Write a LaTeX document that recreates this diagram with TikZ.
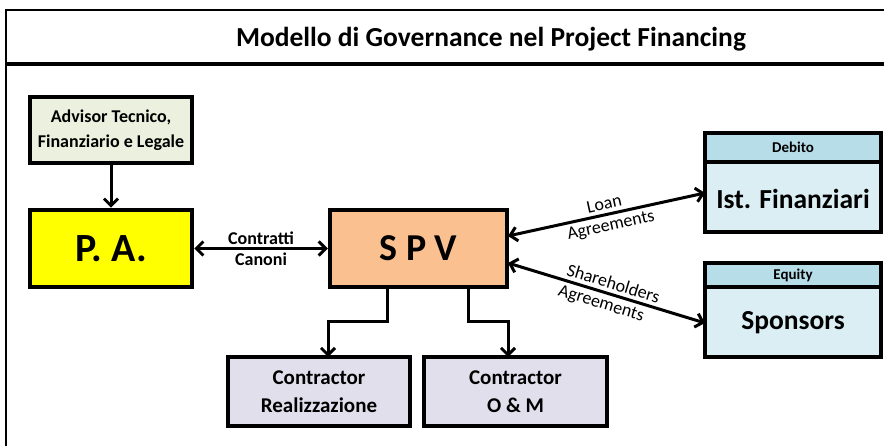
\documentclass[tikz,border=0pt]{standalone}
\usepackage{fontspec}
\setmainfont{Carlito}
\usetikzlibrary{arrows.meta}
\definecolor{advfill}{HTML}{EBF1DE}
\definecolor{pafill}{HTML}{FFFF00}
\definecolor{spvfill}{HTML}{FAC090}
\definecolor{hdrfill}{HTML}{B7DEE8}
\definecolor{bodyfill}{HTML}{DBEEF4}
\definecolor{confill}{HTML}{E2DFED}
\tikzset{
  box/.style={draw=black, line width=4.5pt, inner sep=0pt, font=\bfseries, align=center, text=black},
  conn/.style={line width=3pt, -{Straight Barb[length=7pt,width=14pt,line width=3pt]}},
  dconn/.style={line width=3pt, {Straight Barb[length=7pt,width=14pt,line width=3pt]}-{Straight Barb[length=7pt,width=14pt,line width=3pt]}},
  lbl/.style={font=\fontsize{18}{20}\selectfont, inner sep=3.5pt},
  blbl/.style={font=\fontsize{18}{20}\selectfont\bfseries, inner sep=3.5pt},
}
\begin{document}
\begin{tikzpicture}[x=1pt,y=-1pt]
\useasboundingbox (0,0) rectangle (884,446);
% frame
\draw[line width=2.5pt] (6,446) -- (6,10) -- (886,10);
\draw[line width=4.5pt] (6,64) -- (886,64);
\node[font=\fontsize{27.5}{30}\selectfont\bfseries] (title) at (491,39) {Modello di Governance nel Project Financing};
% boxes
\node[box, fill=advfill, minimum width=162pt, minimum height=66pt, font=\fontsize{18}{25}\selectfont\bfseries] (adv) at (111,130) {Advisor Tecnico,\\Finanziario e Legale};
\node[box, fill=pafill, minimum width=162pt, minimum height=77pt, font=\fontsize{40}{42}\selectfont\bfseries] (pa) at (111,248.5) {P. A.};
\node[box, fill=spvfill, minimum width=177pt, minimum height=77pt, font=\fontsize{38}{42}\selectfont\bfseries] (spv) at (418.5,248.5) {S P V};
% Debito
\node[box, fill=bodyfill, minimum width=176pt, minimum height=99pt] (deb) at (793,182.5) {};
\node[box, fill=hdrfill, minimum width=176pt, minimum height=29pt, font=\fontsize{15}{17}\selectfont\bfseries] (debh) at (793,147.5) {Debito};
\node[font=\fontsize{27.5}{30}\selectfont\bfseries] (istf) at (793,199) {Ist. Finanziari};
% Equity
\node[box, fill=bodyfill, minimum width=176pt, minimum height=94pt] (eq) at (793,310) {};
\node[box, fill=hdrfill, minimum width=176pt, minimum height=24pt, font=\fontsize{15}{17}\selectfont\bfseries] (eqh) at (793,275) {Equity};
\node[font=\fontsize{27.5}{30}\selectfont\bfseries] (spons) at (793,323) {Sponsors};
% contractors
\node[box, fill=confill, minimum width=182pt, minimum height=69pt, font=\fontsize{21}{28}\selectfont\bfseries] (cr) at (319,391.5) {Contractor\\Realizzazione};
\node[box, fill=confill, minimum width=183pt, minimum height=69pt, font=\fontsize{21}{28}\selectfont\bfseries] (com) at (515.5,391.5) {Contractor\\O \& M};
% connectors
\draw[conn] (adv.south) -- (pa.north);
\draw[dconn] (pa.east) -- (spv.west)
  node[midway, above, blbl, inner sep=2pt] (lc) {Contratti}
  node[midway, below, blbl, inner sep=2.5pt] (lca) {Canoni};
\coordinate (s1) at (387,287);
\coordinate (s2) at (468,287);
\draw[conn] (s1) -- (387,322) -- (328,322) -- (328,357);
\draw[conn] (s2) -- (468,322) -- (508,322) -- (508,357);
\coordinate (sl) at (508,236);
\coordinate (sh) at (508,263);
\coordinate (dl) at (705,193);
\coordinate (el) at (705,323);
\draw[dconn] (sl) -- (dl)
  node[midway, sloped, above, lbl] (ll) {Loan}
  node[midway, sloped, below, lbl, xshift=2pt] (la) {Agreements};
\draw[dconn] (sh) -- (el)
  node[midway, sloped, above, lbl, xshift=4pt] (sl1) {Shareholders}
  node[midway, sloped, below, lbl, xshift=-2pt] (sl2) {Agreements};
\end{tikzpicture}
\end{document}
